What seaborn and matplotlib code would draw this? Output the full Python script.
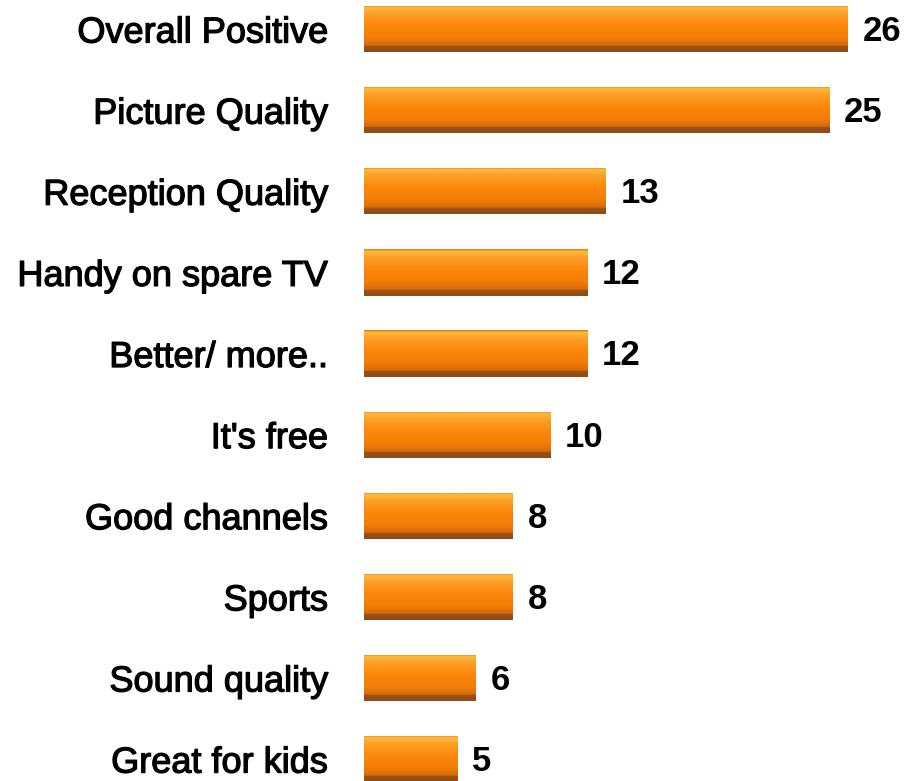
import numpy as np
import pandas as pd
import matplotlib
matplotlib.use("Agg")
import matplotlib.pyplot as plt
import matplotlib.patheffects as pe
from matplotlib.colors import LinearSegmentedColormap
import seaborn as sns

categories = ["Overall Positive", "Picture Quality", "Reception Quality",
              "Handy on spare TV", "Better/ more..", "It's free",
              "Good channels", "Sports", "Sound quality", "Great for kids"]
values = [26, 25, 13, 12, 12, 10, 8, 8, 6, 5]

df = pd.DataFrame({"category": categories, "value": values})

sns.set_theme(style="white")
plt.rcParams["font.family"] = ["Liberation Sans", "DejaVu Sans"]

fig = plt.figure(figsize=(9.05, 7.81), dpi=100)
ax = fig.add_axes([364 / 905, 0, 1 - 364 / 905, 1])

sns.barplot(data=df, x="value", y="category", orient="h", color="#F98008",
            width=0.57, ax=ax, saturation=1)

# glossy vertical shading for each bar
shade = LinearSegmentedColormap.from_list("gloss", [
    (0.00, "#E37312"), (0.05, "#FDBB3A"), (0.18, "#FDA02A"),
    (0.40, "#FC8A0C"), (0.70, "#F37C07"), (0.86, "#D56A0A"),
    (0.88, "#9C5217"), (1.00, "#8E4A16")])
grad = np.linspace(0, 1, 256).reshape(-1, 1)
heavy = [pe.withStroke(linewidth=0.9, foreground="black")]
for p in ax.patches:
    x0, y0 = p.get_x(), p.get_y()
    w, h = p.get_width(), p.get_height()
    im = ax.imshow(grad, cmap=shade, aspect="auto", interpolation="bilinear",
                   extent=(x0, x0 + w, y0 + h, y0), zorder=p.get_zorder() + 0.1)
    im.set_clip_path(p)
    ax.text(x0 + w + 0.8, y0 + h / 2 + 0.03, f"{int(round(w))}", va="center",
            ha="left", fontsize=25, fontweight="bold", color="black")

ax.set_xlim(0, (905 - 364) / 18.6)
ax.set_ylim(9.27, -0.358)
ax.set_xlabel("")
ax.set_ylabel("")
ax.set_xticks([])
ax.tick_params(axis="y", length=0, pad=26, labelsize=26, labelcolor="black")
for t in ax.get_yticklabels():
    t.set_path_effects(heavy)
for s in ax.spines.values():
    s.set_visible(False)
ax.set_facecolor("white")

fig.savefig("out.png", dpi=100, facecolor="white")
